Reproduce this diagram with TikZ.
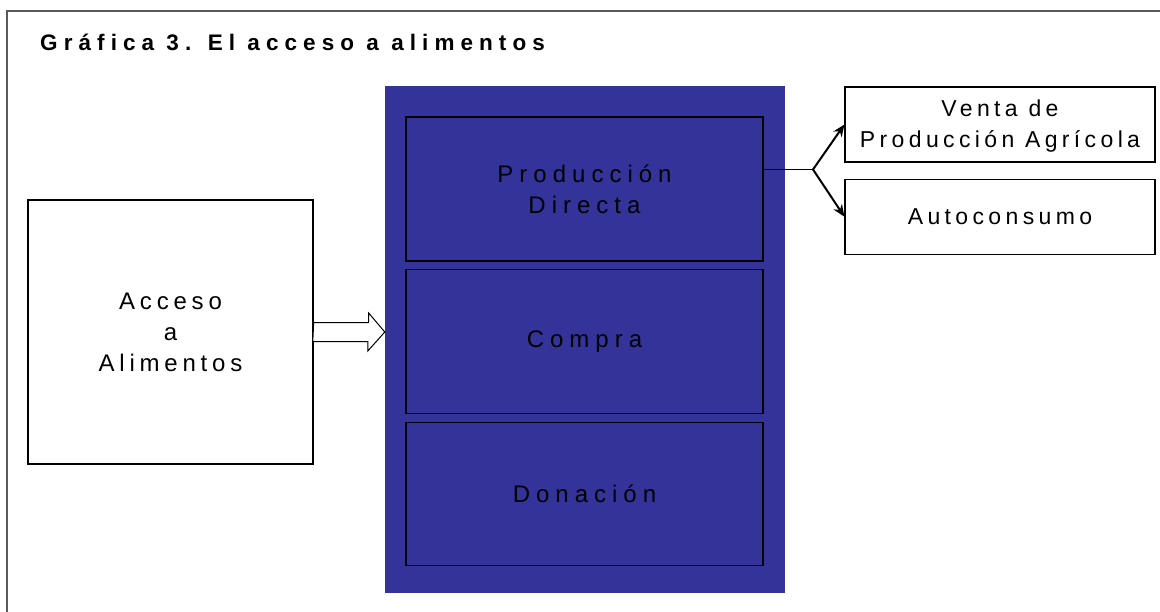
\documentclass[tikz,border=0pt]{standalone}
\usepackage{fontspec}
\setmainfont{Liberation Sans}
\usepackage{xcolor}
\definecolor{azul}{RGB}{51,51,153}
\definecolor{marco}{RGB}{90,90,90}
\usepackage{tikz}
\usetikzlibrary{calc,positioning,arrows.meta,shapes}
\newcommand{\titulo}{\fontsize{22.5}{24}\selectfont\bfseries\addfontfeature{LetterSpace=27}}
\newcommand{\letra}{\fontsize{24}{31}\selectfont\addfontfeature{LetterSpace=25}}
\newcommand{\letrad}{\fontsize{23}{31}\selectfont\addfontfeature{LetterSpace=19}}
\tikzset{
  frame/.style={draw=marco, line width=2pt},
  panel/.style={rectangle, fill=azul, minimum width=400pt, minimum height=507pt, inner sep=0pt},
  sub/.style={rectangle, draw=black, line width=1.2pt, fill=azul, minimum width=357pt, minimum height=144pt, align=center, font=\letra},
  caja/.style={rectangle, draw=black, line width=1.3pt, fill=white, align=center, font=\letra},
  cajad/.style={rectangle, draw=black, line width=1.2pt, fill=white, minimum width=310pt, minimum height=75pt, align=center, font=\letrad},
  hueca/.style={draw=black, line width=1pt, fill=white},
  line/.style={draw=black, line width=1.1pt},
  flec/.style={draw=black, line width=2pt, -{Stealth[length=12pt,width=10pt]}},
}
\begin{document}
\begin{tikzpicture}[x=1pt,y=-1pt]
    \useasboundingbox (0,0) rectangle (1160,611);
    \draw[frame] (1170,11) -| (7,620);
    \node[anchor=base west, inner sep=0pt, font=\titulo] (tit) at (40,50) {Gráfica 3. El acceso a alimentos};

    \node[panel] (panel) at (585,339.5) {};
    \node[sub] (prod) at (584.5,189) {Producción\\Directa};
    \node[sub, below=7pt of prod] (compra) {Compra};
    \node[sub, below=8pt of compra, minimum height=143pt] (dona) {Donación};

    \node[caja, minimum width=285pt, minimum height=264pt, font=\letra\addfontfeature{LetterSpace=20}] (acceso) at (170.5,332) {Acceso\\a\\Alimentos};

    \node[cajad, text depth=2pt] (venta) at (1000,124.5) {Venta de\\Producción Agrícola};
    \node[cajad, below=16pt of venta] (auto) {Autoconsumo};

    \draw[hueca] ($(acceso.east)+(0,-9.5)$) -- ++(55,0) -- ++(0,-9.5)
      -- (acceso.east -| panel.west) -- ++(-17,19) -- ++(0,-9.5) -- ++(-55,0) -- cycle;

    \coordinate (rama) at (813,169.5);
    \path[line] (rama -| prod.east) -- (rama);
    \path[flec] (rama) -- (venta.west);
    \path[flec] (rama) -- (auto.west);
  \end{tikzpicture}
\end{document}
